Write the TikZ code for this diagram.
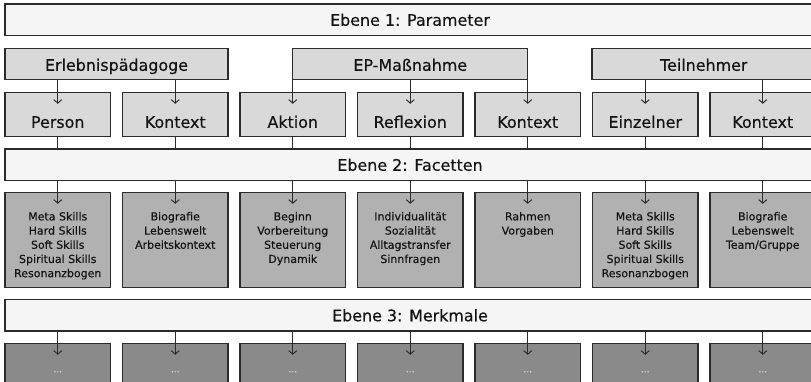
\documentclass[tikz,border=0pt]{standalone}
\usepackage{fontspec}
\setmainfont{DejaVu Sans}[FakeBold=0.35]
\usetikzlibrary{arrows.meta}
\definecolor{barfill}{HTML}{F5F5F5}
\definecolor{parfill}{HTML}{D9D9D9}
\definecolor{detfill}{HTML}{B1B1B1}
\definecolor{botfill}{HTML}{8A8A8A}
\definecolor{edgecol}{HTML}{2B2B2B}
\definecolor{txtcol}{HTML}{141414}
\definecolor{dotcol}{HTML}{D8D8D8}
\begin{document}
\begin{tikzpicture}[x=1pt,y=-1pt,
  basebox/.style={draw=edgecol, line width=1.2pt, outer sep=0pt, inner sep=0pt, anchor=north west, text=txtcol},
  barbox/.style={basebox, fill=barfill, minimum width=810pt, minimum height=31.5pt,
     font=\fontsize{15.9}{18}\selectfont, text height=12pt, text depth=0pt},
  parbox/.style={basebox, fill=parfill, minimum height=31pt,
     font=\fontsize{15.9}{18}\selectfont, text height=14pt, text depth=0pt},
  facetbox/.style={basebox, fill=parfill, minimum width=105.5pt, minimum height=44pt,
     font=\fontsize{15.9}{18}\selectfont, text height=27pt, text depth=0pt},
  detbox/.style={basebox, fill=detfill, minimum width=105.5pt, minimum height=95pt},
  botbox/.style={basebox, fill=botfill, minimum width=105.5pt, minimum height=60pt},
  dettext/.style={anchor=north, inner sep=0pt, align=center, text=txtcol, font=\fontsize{11}{14.2}\selectfont},
  dots/.style={anchor=base, inner sep=0pt, text=dotcol, font=\fontsize{9}{10}\selectfont},
  plainline/.style={draw=edgecol, line width=1pt},
  arrowline/.style={plainline, -{Straight Barb[length=3.5pt,width=8pt,line width=1pt]}}
]
\useasboundingbox (0,0) rectangle (811,381);
\clip (0,0) rectangle (811,381);

% level bars
\node[barbox] (e1) at (5,4) {Ebene 1: Parameter};
\node[barbox] (e2) at (5,149) {Ebene 2: Facetten};
\node[barbox] (e3) at (5,299.5) {Ebene 3: Merkmale};

% parameter boxes
\node[parbox, minimum width=223pt] (p1) at (5,48.3) {Erlebnispädagoge};
\node[parbox, minimum width=235pt] (p2) at (292.75,48.3) {EP-Maßnahme};
\node[parbox, minimum width=223.5pt] (p3) at (592,48.3) {Teilnehmer};

% facet boxes, detail boxes, bottom boxes
\foreach \i/\t in {1/Person,2/Kontext,3/Aktion,4/Reflexion,5/Kontext,6/Einzelner,7/Kontext}{
  \node[facetbox] (f\i) at ({5+117.5*(\i-1)},92.3) {\t};
  \node[detbox] (d\i) at ({5+117.5*(\i-1)},192.3) {};
  \node[botbox] (b\i) at ({5+117.5*(\i-1)},343.3) {};
  \node[dots] (bt\i) at ([yshift=-29pt]b\i.north) {...};
}

% detail texts
\node[dettext] (t1) at ([yshift=-19.5pt]d1.north) {Meta Skills\\Hard Skills\\Soft Skills\\Spiritual Skills\\Resonanzbogen};
\node[dettext] (t2) at ([yshift=-19.5pt]d2.north) {Biografie\\Lebenswelt\\Arbeitskontext};
\node[dettext] (t3) at ([yshift=-19.5pt]d3.north) {Beginn\\Vorbereitung\\Steuerung\\Dynamik};
\node[dettext] (t4) at ([yshift=-19.5pt]d4.north) {Individualität\\Sozialität\\Alltagstransfer\\Sinnfragen};
\node[dettext] (t5) at ([yshift=-19.5pt]d5.north) {Rahmen\\Vorgaben};
\node[dettext] (t6) at ([yshift=-19.5pt]d6.north) {Meta Skills\\Hard Skills\\Soft Skills\\Spiritual Skills\\Resonanzbogen};
\node[dettext] (t7) at ([yshift=-19.5pt]d7.north) {Biografie\\Lebenswelt\\Team/Gruppe};

% parameter -> facet arrows
\draw[arrowline] (p1.south -| f1.north) -- ([yshift=-11.5pt]f1.north);
\draw[arrowline] (p1.south -| f2.north) -- ([yshift=-11.5pt]f2.north);
\draw[arrowline] (p2.south -| f3.north) -- ([yshift=-11.5pt]f3.north);
\draw[arrowline] (p2.south -| f4.north) -- ([yshift=-11.5pt]f4.north);
\draw[arrowline] (p2.south -| f5.north) -- ([yshift=-11.5pt]f5.north);
\draw[arrowline] (p3.south -| f6.north) -- ([yshift=-11.5pt]f6.north);
\draw[arrowline] (p3.south -| f7.north) -- ([yshift=-11.5pt]f7.north);

% facets -> level 2 -> details ; level 3 -> bottom
\foreach \i in {1,...,7}{
  \draw[plainline] (f\i.south) -- (f\i.south |- e2.north);
  \draw[arrowline] (e2.south -| d\i.north) -- ([yshift=-11.5pt]d\i.north);
  \draw[arrowline] (e3.south -| b\i.north) -- ([yshift=-11.5pt]b\i.north);
}
\end{tikzpicture}
\end{document}
